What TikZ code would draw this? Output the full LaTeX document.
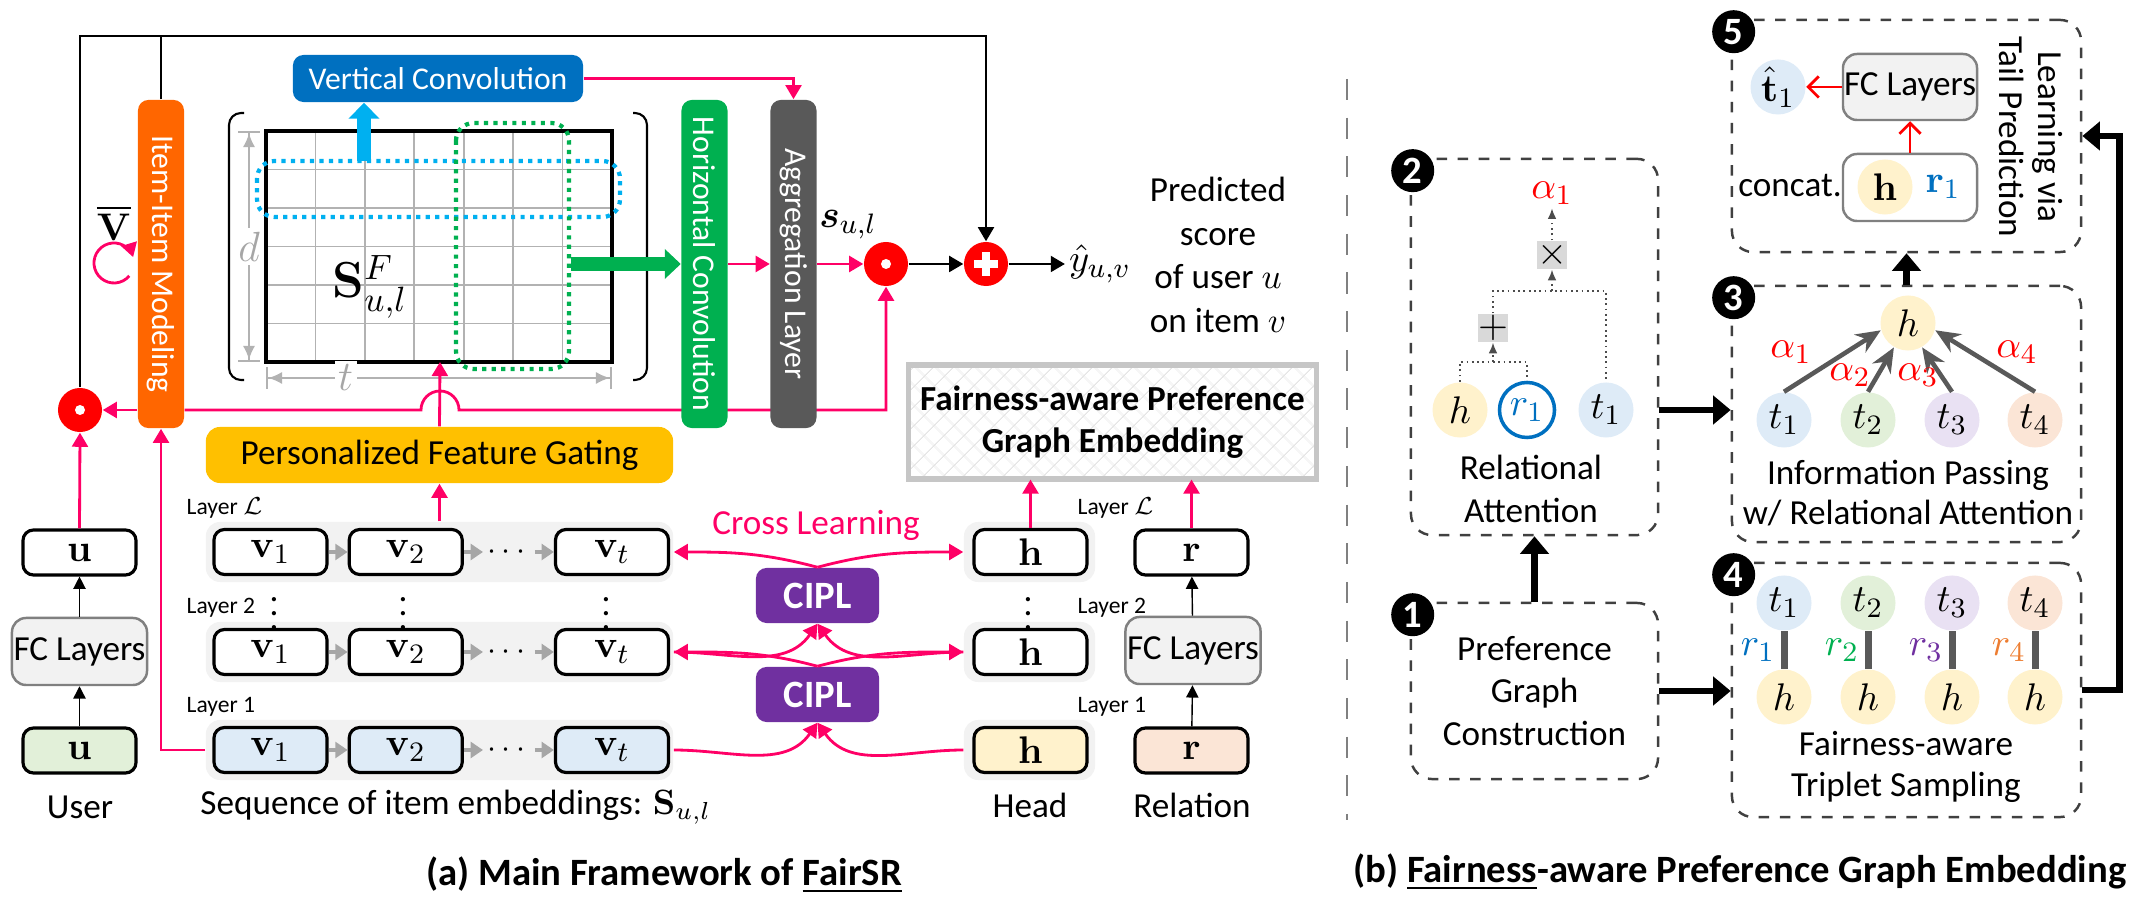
\documentclass[tikz,border=0pt]{standalone}
\usepackage{amsmath,bm}
\usepackage{graphicx}
\usepackage[no-math]{fontspec}
\setmainfont{Carlito}
\usetikzlibrary{arrows.meta,positioning,calc,patterns.meta}
\pgfdeclarelayer{bg}
\pgfsetlayers{bg,main}

\definecolor{pinkred}{HTML}{FF0066}
\definecolor{iorange}{HTML}{FF6600}
\definecolor{vblue}{HTML}{0070C0}
\definecolor{cyanb}{HTML}{00B0F0}
\definecolor{hgreen}{HTML}{00B050}
\definecolor{aggray}{HTML}{595959}
\definecolor{gold}{HTML}{FFC000}
\definecolor{cpurple}{HTML}{7030A0}
\definecolor{lblue}{HTML}{DEEBF7}
\definecolor{lgreen}{HTML}{E2F0D9}
\definecolor{lyellow}{HTML}{FFF2CC}
\definecolor{lpeach}{HTML}{FBE5D6}
\definecolor{lpurple}{HTML}{E9E1F3}
\definecolor{lgray}{HTML}{F2F2F2}
\definecolor{rorange}{HTML}{ED7D31}

\tikzset{
  pinkar/.style={draw=pinkred, line width=0.8pt, -{Triangle[width=4.5pt,length=4pt]}},
  blkar/.style={draw=black, line width=0.7pt, -{Triangle[width=4.5pt,length=4pt]}},
  thinar/.style={draw=black, line width=0.4pt, -{Triangle[width=3.5pt,length=3.5pt]}},
  seqar/.style={draw=gray!70, line width=1pt, -{Triangle[width=4.5pt,length=3.5pt]}},
  redar/.style={draw=red, line width=0.8pt, -{Straight Barb[length=3pt,width=6pt]}},
  grayar/.style={draw=aggray, line width=1.3pt, -{Stealth[length=7pt,width=6pt]}},
  bigar/.style={draw=black, line width=1.8pt, -{Triangle[width=8pt,length=5pt]}},
  dotline/.style={draw=black!70, densely dotted, line width=0.5pt},
  dotar/.style={dotline, -{Latex[length=3pt,width=2.5pt]}},
  dimar/.style={draw=gray!60, line width=0.6pt, {Bar[width=6pt]Latex[length=4pt,width=3.5pt]}-{Latex[length=4pt,width=3.5pt]Bar[width=6pt]}},
  gridline/.style={draw=gray!60, line width=0.5pt},
  tallbox/.style={rounded corners=3pt, minimum width=0.46cm, minimum height=3.28cm, text=white, inner sep=0pt, font=\fontsize{9}{11}\selectfont},
  embox/.style={draw, rounded corners=3pt, line width=0.9pt, minimum width=1.13cm, minimum height=0.45cm, inner sep=0pt, font=\fontsize{11}{13}\selectfont},
  rowbg/.style={fill=lgray, rounded corners=4pt, minimum height=0.6cm, inner sep=0pt},
  fcbox/.style={draw=gray, fill=lgray, rounded corners=4pt, line width=0.7pt, minimum width=1.35cm, minimum height=0.67cm, inner sep=0pt},
  layerlbl/.style={anchor=west, font=\fontsize{6.7}{8}\selectfont, inner sep=0pt},
  ciplbox/.style={fill=cpurple, rounded corners=3pt, text=white, minimum width=1.23cm, minimum height=0.55cm, font=\bfseries\fontsize{11}{13}\selectfont},
  opcirc/.style={circle, fill=red, minimum size=0.44cm, inner sep=0pt},
  odot/.style={opcirc, path picture={\fill[white] (path picture bounding box.center) circle (0.05cm);}},
  oplus/.style={opcirc, path picture={
      \draw[white, line width=2pt] ([xshift=-0.12cm]path picture bounding box.center) -- ([xshift=0.12cm]path picture bounding box.center);
      \draw[white, line width=2pt] ([yshift=-0.12cm]path picture bounding box.center) -- ([yshift=0.12cm]path picture bounding box.center);}},
  stepbox/.style={draw=black!75, dashed, line width=0.7pt, rounded corners=6pt, inner sep=0pt},
  badge/.style={circle, fill=black, text=white, minimum size=0.43cm, inner sep=0pt, font=\bfseries\fontsize{11}{13}\selectfont},
  ent/.style={circle, minimum size=0.55cm, inner sep=0pt, font=\fontsize{11}{13}\selectfont},
  opbox/.style={fill=gray!30, minimum size=0.28cm, inner sep=0pt, font=\fontsize{11}{13}\selectfont},
  mathlbl/.style={font=\fontsize{11}{13}\selectfont, inner sep=1pt},
}

\begin{document}
\begin{tikzpicture}[x=0.01cm,y=-0.01cm,font=\fontsize{10}{12}\selectfont]
\useasboundingbox (0,0) rectangle (2148,904);

% (a) main framework
\node[tallbox, fill=iorange] (iim) at (161,264) {\rotatebox{-90}{Item-Item Modeling}};
\node[tallbox, fill=hgreen] (hc) at (704.5,264) {\rotatebox{-90}{Horizontal Convolution}};
\node[tallbox, fill=aggray] (agg) at (793.5,264) {\rotatebox{-90}{Aggregation Layer}};
\node[fill=vblue, text=white, rounded corners=3pt, minimum width=2.9cm, minimum height=0.47cm, inner sep=0pt, font=\fontsize{9}{11}\selectfont] (vc) at (438,78.5) {Vertical Convolution};
\node[fill=gold, rounded corners=4pt, minimum width=4.67cm, minimum height=0.56cm, inner sep=0pt] (pfg) at (439.5,455) {Personalized Feature Gating};

% embedding matrix
\foreach \i in {1,...,6}
  \draw[gridline] ({266+\i*49.43},131) -- ({266+\i*49.43},362);
\foreach \j in {1,...,5}
  \draw[gridline] (266,{131+\j*38.5}) -- (612,{131+\j*38.5});
\draw[line width=0.9pt] (266,131) rectangle (612,362);
\draw[line width=0.6pt, rounded corners=0.12cm] (244,113) -- (229,113) -- (229,380) -- (244,380);
\draw[line width=0.6pt, rounded corners=0.12cm] (633,113) -- (647,113) -- (647,380) -- (633,380);
\draw[cyanb, line width=1.2pt, dash pattern=on 1.2pt off 1.5pt, rounded corners=5pt] (257,161) rectangle (620,217);
\draw[hgreen, line width=1.2pt, dash pattern=on 1.2pt off 1.5pt, rounded corners=5pt] (456,123) rectangle (569,369);
\draw[dimar] (249,131) -- node[fill=white, inner sep=1pt, text=gray!70, font=\fontsize{13}{15}\selectfont] {$d$} (249,362);
\draw[dimar] (266,378) -- node[pos=0.23, fill=white, inner sep=1pt, text=gray!70, font=\fontsize{13}{15}\selectfont] {$t$} (612,378);
\node[font=\fontsize{14}{16}\selectfont] (sf) at (370,287) {$\mathbf{S}^{F}_{u,l}$};

\coordinate (vcin) at (364,161);
\draw[cyanb, line width=0.14cm, -{Triangle[width=0.3cm,length=0.16cm]}] (vcin) -- (vcin |- vc.south);
\coordinate (hcin) at (571,264);
\draw[hgreen, line width=0.14cm, -{Triangle[width=0.29cm,length=0.16cm]}] (hcin) -- (hc.west);

% fusion
\node[odot] (odotL) at (80,410) {};
\node[odot] (odotR) at (886,264) {};
\node[oplus] (plus) at (986,264) {};
\node[mathlbl] (yhat) at (1100,264) {$\hat{y}_{u,v}$};
\node[mathlbl] (sul) at (848,225) {$\boldsymbol{s}_{u,l}$};
\node[align=center, font=\fontsize{10}{12.4}\selectfont] (pred) at (1218,255) {Predicted\\score\\of user $u$\\on item $v$};
\node[mathlbl] (vbar) at (114,223) {$\overline{\mathbf{V}}$};
\coordinate (vloop) at (114,263);
\draw[pinkar] ([shift={(-40:0.2cm)}]vloop) arc[start angle=-40, end angle=-343, radius=0.2cm];

\coordinate (topy) at (0,36);
\draw[blkar] (odotL.north) -- (odotL.north |- topy) -| (plus.north);
\draw[line width=0.7pt] (iim.north) -- (iim.north |- topy);
\draw[blkar] (odotR) -- (plus);
\draw[blkar] (plus) -- (yhat);
\draw[pinkar] (vc.east) -| (agg.north);
\draw[pinkar] (hc) -- (agg);
\draw[pinkar] (agg) -- (odotR);
\draw[pinkar] (iim.west |- odotL) -- (odotL);
\coordinate (hop) at (440,410);
\coordinate (gridS) at (440,362);
\begin{pgfonlayer}{bg}
\draw[pinkar] (iim.east |- hop) -- ([xshift=-0.19cm]hop) arc[start angle=180, end angle=0, radius=0.19cm] -| (odotR.south);
\end{pgfonlayer}
\draw[pinkar] (pfg.north) -- (gridS);

% sequence rows
\foreach \r/\y/\vf/\hf in {L/552/white/white, 2/652/white/white, 1/750/lblue/lyellow} {
  \node[rowbg, minimum width=4.67cm] (row\r) at (439.5,\y) {};
  \node[embox, fill=\vf] (va\r) at (270.5,\y) {$\mathbf{v}_1$};
  \node[embox, fill=\vf, right=0.19cm of va\r] (vb\r) {$\mathbf{v}_2$};
  \node[embox, fill=\vf, right=0.9cm of vb\r] (vt\r) {$\mathbf{v}_t$};
  \node[inner sep=1pt, font=\fontsize{9}{11}\selectfont] (vd\r) at ($(vb\r.east)!0.5!(vt\r.west)$) {$\cdots$};
  \draw[seqar] (va\r) -- (vb\r);
  \draw[seqar] (vb\r) -- (vd\r);
  \draw[seqar] (vd\r) -- (vt\r);
  \node[rowbg, minimum width=1.31cm] (hb\r) at (1029.5,\y) {};
  \node[embox, fill=\hf] (h\r) at (1030.5,\y) {$\mathbf{h}$};
}
\foreach \x in {274,403,606,1028}
  \node at (\x,603) {$\vdots$};
\node[layerlbl] at (186,508) {Layer $\mathcal{L}$};
\node[layerlbl] at (186,608) {Layer 2};
\node[layerlbl] at (186,707) {Layer 1};
\node[layerlbl] at (1077,508) {Layer $\mathcal{L}$};
\node[layerlbl] at (1077,608) {Layer 2};
\node[layerlbl] at (1077,707) {Layer 1};

% user and relation columns
\node[embox, fill=lgreen] (ub) at (79.5,750.5) {$\mathbf{u}$};
\node[fcbox] (fcl) at (79.5,651.5) {FC Layers};
\node[embox, fill=white] (ut) at (79.5,552.5) {$\mathbf{u}$};
\draw[thinar] (ub) -- (fcl);
\draw[thinar] (fcl) -- (ut);
\node[embox, fill=lpeach] (rb) at (1191.5,750.5) {$\mathbf{r}$};
\node[fcbox] (fcr) at (1193,650.5) {FC Layers};
\node[embox, fill=white] (rt) at (1191.5,552.5) {$\mathbf{r}$};
\draw[thinar] (rb) -- (fcr);
\draw[thinar] (fcr) -- (rt);

\node[draw=gray!45, line width=1.5pt, minimum width=4.05cm, minimum height=1.14cm, align=center, pattern={Hatch[angle=45,distance=4pt,line width=0.3pt]}, pattern color=gray!20, font=\bfseries\fontsize{10}{12}\selectfont] (fap) at (1112.5,422) {Fairness-aware Preference\\Graph Embedding};
\draw[pinkar] (hL.north) -- (hL.north |- fap.south);
\draw[pinkar] (rt.north) -- (rt.north |- fap.south);
\draw[pinkar] (ut.north) -- (odotL.south);
\draw[pinkar] (rowL.north) -- (pfg.south);
\draw[pinkar] (row1.west) -| (iim.south);

% cross learning
\node[ciplbox] (cp1) at (817.5,595.5) {CIPL};
\node[ciplbox] (cp2) at (817.5,694.5) {CIPL};
\node[text=pinkred] (cross) at (816,525) {Cross Learning};
\draw[pinkar] (cp1.north) to[out=165,in=0] (rowL.east);
\draw[pinkar] (cp1.north) to[out=15,in=180] (hbL.west);
\draw[pinkar] (cp2.north) to[out=165,in=0] (row2.east);
\draw[pinkar] (cp2.north) to[out=15,in=180] (hb2.west);
\draw[pinkar] (row2.east) to[out=0,in=235] (cp1.south);
\draw[pinkar] (hb2.west) to[out=180,in=-55] (cp1.south);
\draw[pinkar] (row1.east) to[out=0,in=235] (cp2.south);
\draw[pinkar] (hb1.west) to[out=180,in=-55] (cp2.south);

\node (userlbl) at (80,807) {User};
\node[anchor=west] (seqlbl) at (188,807) {Sequence of item embeddings: $\mathbf{S}_{u,l}$};
\node (headlbl) at (1030,805) {Head};
\node (rellbl) at (1192,805) {Relation};
\node[font=\bfseries\fontsize{11}{13}\selectfont] (capa) at (664,875) {(a) Main Framework of \underline{FairSR}};

% (b) preference graph embedding
\draw[gray, line width=0.8pt, dash pattern=on 6pt off 5pt] (1347,79) -- (1347,820);
\node[stepbox, minimum width=2.47cm, minimum height=1.76cm, align=center, font=\fontsize{10}{12}\selectfont] (s1) at (1534.5,691) {Preference\\Graph\\Construction};
\node[stepbox, minimum width=2.47cm, minimum height=3.76cm] (s2) at (1534.5,347) {};
\node[stepbox, minimum width=3.49cm, minimum height=2.56cm] (s3) at (1906.5,414) {};
\node[stepbox, minimum width=3.49cm, minimum height=2.54cm] (s4) at (1906.5,690) {};
\node[stepbox, minimum width=3.49cm, minimum height=2.32cm] (s5) at (1906.5,136) {};
\foreach \s in {1,...,5}
  \node[badge] at ($(s\s.north west)+(3,13)$) {\s};

% step 2
\node[ent, fill=lyellow] (ah) at (1460,410) {$h$};
\node[ent, draw=vblue, line width=1pt, text=vblue] (ar) at (1527,410) {$r_1$};
\node[ent, fill=lblue] (at) at (1606,410) {$t_1$};
\node[opbox] (plusb) at (1493,328) {$+$};
\node[opbox] (timesb) at (1552,255) {$\times$};
\node[mathlbl, text=red] (alpha) at (1552,193) {$\alpha_1$};
\coordinate (j1) at (1493,362);
\coordinate (j2) at (1552,291);
\draw[dotline] (ah.north) |- (j1) -| (ar.north);
\draw[dotar] (j1) -- (plusb.south);
\draw[dotline] (plusb.north) |- (j2) -| (at.north);
\draw[dotar] (j2) -- (timesb.south);
\draw[dotar] (timesb.north) -- (alpha.south);
\node[align=center, font=\fontsize{10}{12}\selectfont] at (1531,489) {Relational\\Attention};

% step 3
\node[ent, fill=lyellow] (ih) at (1908,323) {$h$};
\foreach \i/\x/\c/\a in {1/1784/lblue/195, 2/1868/lgreen/240, 3/1952/lpurple/300, 4/2035/lpeach/-15} {
  \node[ent, fill=\c] (it\i) at (\x,420) {$t_\i$};
  \draw[grayar] (it\i.north) -- (ih.\a);
}
\node[mathlbl, text=red] at (1791,352) {$\alpha_1$};
\node[mathlbl, text=red] at (1850,375) {$\alpha_2$};
\node[mathlbl, text=red] at (1918,375) {$\alpha_3$};
\node[mathlbl, text=red] at (2017,352) {$\alpha_4$};
\node[align=center, font=\fontsize{10}{11.6}\selectfont] at (1908,493) {Information Passing\\w/ Relational Attention};

% step 4
\foreach \i/\x/\c/\rc in {1/1784/lblue/vblue, 2/1868/lgreen/hgreen, 3/1952/lpurple/cpurple, 4/2035/lpeach/rorange} {
  \node[ent, fill=\c] (ft\i) at (\x,603) {$t_\i$};
  \node[ent, fill=lyellow] (fh\i) at (\x,697) {$h$};
  \draw[aggray, line width=2pt] (ft\i) -- (fh\i);
  \node[mathlbl, text=\rc] at ({\x-26},650) {$r_\i$};
}
\node[align=center, font=\fontsize{10}{11.6}\selectfont] at (1906,767) {Fairness-aware\\Triplet Sampling};

% step 5
\node[ent, fill=lblue] (that) at (1778,87) {$\hat{\mathbf{t}}_1$};
\node[fcbox, minimum width=1.34cm, minimum height=0.66cm] (fc5) at (1910,87) {FC Layers};
\node[draw=gray, rounded corners=4pt, line width=0.7pt, minimum width=1.34cm, minimum height=0.67cm] (cat) at (1910,187.5) {};
\node[ent, fill=lyellow] (hc5) at (1885,187) {$\mathbf{h}$};
\node[mathlbl, text=vblue] (rc5) at (1943,187) {$\mathbf{r}_1$};
\node (concat) at (1790,186) {concat.};
\draw[redar] (fc5) -- (that);
\draw[redar] (cat) -- (fc5);
\node[rotate=-90, align=center, font=\fontsize{10}{11}\selectfont] (tailp) at (2031,137) {Learning via\\Tail Prediction};

\draw[bigar] (s1) -- (s2);
\draw[bigar] (s1.east) -- (s1.east -| s4.west);
\draw[bigar] (s2.east |- at) -- (s3.west |- at);
\draw[bigar] (s3) -- (s5);
\draw[bigar] (s4.east) -- ++(0.37cm,0) |- (s5.east);

\node[font=\bfseries\fontsize{11}{13}\selectfont] (capb) at (1740,872) {(b) \underline{Fairness}-aware Preference Graph Embedding};
\end{tikzpicture}
\end{document}
